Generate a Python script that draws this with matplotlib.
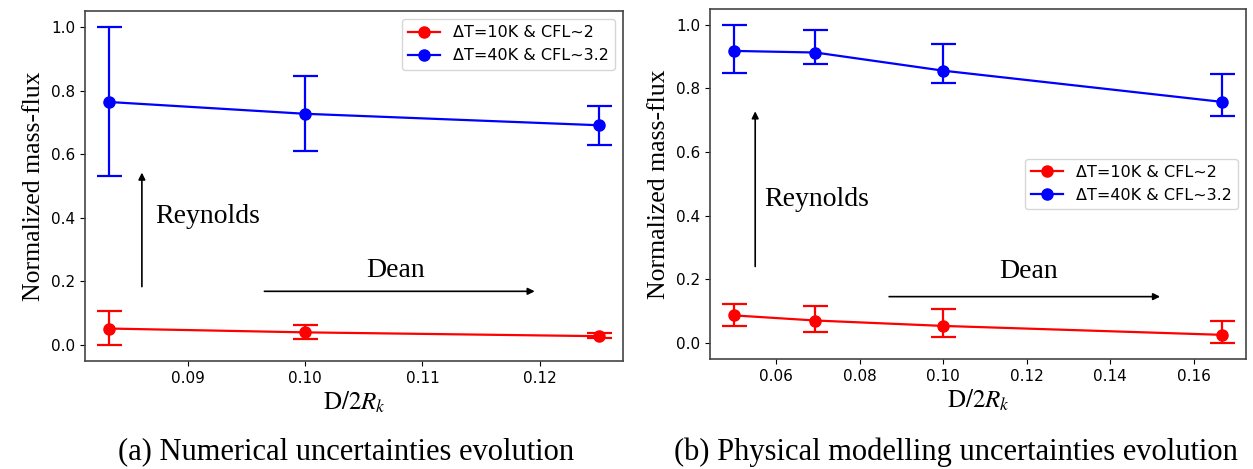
import matplotlib
matplotlib.use("Agg")
import matplotlib.pyplot as plt
from matplotlib.lines import Line2D
import numpy as np

plt.rcParams["mathtext.fontset"] = "stix"

# (a) numerical uncertainties
xa = [1 / 12, 0.10, 0.125]
a_red = [0.052, 0.040, 0.028]
a_red_lo = [0.000, 0.019, 0.021]
a_red_hi = [0.107, 0.063, 0.037]
a_blue = [0.764, 0.727, 0.691]
a_blue_lo = [0.531, 0.609, 0.629]
a_blue_hi = [1.000, 0.846, 0.753]

# (b) physical modelling uncertainties
xb = [0.05, 0.0694, 0.10, 1 / 6]
b_red = [0.087, 0.071, 0.054, 0.026]
b_red_lo = [0.054, 0.035, 0.019, 0.000]
b_red_hi = [0.123, 0.118, 0.107, 0.068]
b_blue = [0.918, 0.913, 0.856, 0.758]
b_blue_lo = [0.850, 0.877, 0.816, 0.713]
b_blue_hi = [1.000, 0.983, 0.940, 0.845]

labels = ["ΔT=10K & CFL~2", "ΔT=40K & CFL~3.2"]
captions = ["(a) Numerical uncertainties evolution",
            "(b) Physical modelling uncertainties evolution"]

serif = "Liberation Serif"

fig = plt.figure(figsize=(12.53, 4.69), dpi=100)
ax1 = fig.add_axes([0.0678, 0.2303, 0.4294, 0.7462])
ax2 = fig.add_axes([0.5666, 0.2345, 0.4278, 0.7465])


def draw(ax, x, red, rlo, rhi, blue, blo, bhi):
    red, blue = np.array(red), np.array(blue)
    for y, lo, hi, c in [(red, rlo, rhi, "red"), (blue, blo, bhi, "blue")]:
        err = [y - np.array(lo), np.array(hi) - y]
        ax.errorbar(x, y, yerr=err, color=c, marker="o", markersize=8,
                    linewidth=1.6, elinewidth=1.6, capsize=9, capthick=1.6)
    ax.tick_params(labelsize=11)
    ax.set_ylabel("Normalized mass-flux", family=serif, fontsize=18.5)
    ax.set_xlabel(r"$\mathrm{D}/2R_k$", fontsize=18, labelpad=3)
    for s in ax.spines.values():
        s.set_color("#444444")
        s.set_linewidth(1.2)
    # legend shows only line + marker, like a plain plot() handle
    handles = [Line2D([], [], color=c, marker="o", markersize=8, linewidth=1.6)
               for c in ["red", "blue"]]
    return handles


h = draw(ax1, xa, a_red, a_red_lo, a_red_hi, a_blue, a_blue_lo, a_blue_hi)
draw(ax2, xb, b_red, b_red_lo, b_red_hi, b_blue, b_blue_lo, b_blue_hi)

ax1.set_xticks([0.09, 0.10, 0.11, 0.12])
ax1.legend(h, labels, loc="upper right", fontsize=11.5)
ax2.legend(h, labels, loc="center right", fontsize=11.5)

arrow = dict(arrowstyle="-|>", color="black", lw=1.2, mutation_scale=10)
ax1.annotate("", xy=(0.0861, 0.551), xytext=(0.0861, 0.175), arrowprops=arrow)
ax1.text(0.0872, 0.404, "Reynolds", family=serif, fontsize=20, va="center")
ax1.annotate("", xy=(0.1198, 0.169), xytext=(0.0963, 0.169), arrowprops=arrow)
ax1.text(0.1077, 0.235, "Dean", family=serif, fontsize=20, ha="center", va="center")

ax2.annotate("", xy=(0.055, 0.737), xytext=(0.055, 0.232), arrowprops=arrow)
ax2.text(0.0571, 0.452, "Reynolds", family=serif, fontsize=20, va="center")
ax2.annotate("", xy=(0.1526, 0.146), xytext=(0.0864, 0.146), arrowprops=arrow)
ax2.text(0.1205, 0.225, "Dean", family=serif, fontsize=20, ha="center", va="center")

fig.text(346 / 1253, 0.036, captions[0], family=serif, fontsize=22, ha="center", va="center")
fig.text(956 / 1253, 0.036, captions[1], family=serif, fontsize=22, ha="center", va="center")

fig.savefig("out.png", dpi=100)
